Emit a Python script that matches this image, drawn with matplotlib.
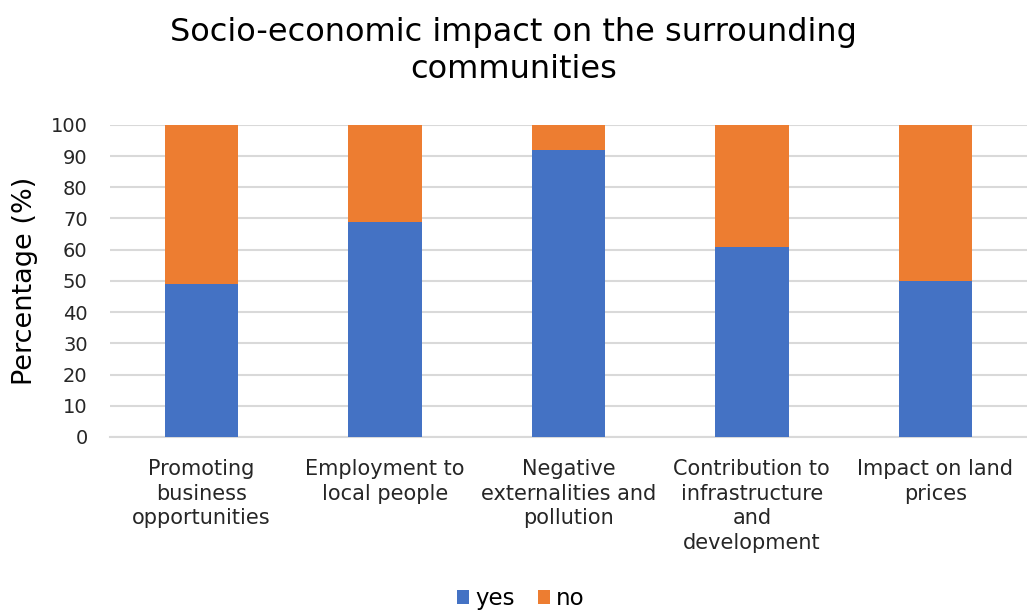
import matplotlib.pyplot as plt
import numpy as np

categories = [
    "Promoting\nbusiness\nopportunities",
    "Employment to\nlocal people",
    "Negative\nexternalities and\npollution",
    "Contribution to\ninfrastructure\nand\ndevelopment",
    "Impact on land\nprices",
]
yes_pct = [49, 69, 92, 61, 50]
no_pct = [51, 31, 8, 39, 50]
y_ticks = list(range(0, 101, 10))

blue = "#4472C4"
orange = "#ED7D31"

plt.rcParams['font.family'] = ['DejaVu Sans']
fig = plt.figure(figsize=(10.27, 6.12), dpi=100)
ax = fig.add_axes([0.107, 0.286, 0.893, 0.51])

x = np.arange(len(categories))
w = 0.4
ax.bar(x, yes_pct, w, color=blue, label="yes", zorder=3)
ax.bar(x, no_pct, w, bottom=yes_pct, color=orange, label="no", zorder=3)

ax.set_xlim(-0.5, len(categories) - 0.5)
ax.set_ylim(0, 100)
ax.set_yticks(y_ticks)
ax.yaxis.grid(True, color="#D9D9D9", linewidth=1.5, zorder=0)
ax.set_axisbelow(True)
for s in ["top", "right", "left"]:
    ax.spines[s].set_visible(False)
ax.spines["bottom"].set_color("#D9D9D9")
ax.spines["bottom"].set_linewidth(1.5)
ax.tick_params(axis="y", length=0, labelsize=14, pad=16)
ax.tick_params(axis="x", length=0, labelsize=15, pad=16)
ax.set_xticks(x)
ax.set_xticklabels(categories, linespacing=1.28)
for lbl in ax.get_xticklabels() + ax.get_yticklabels():
    lbl.set_color("#262626")

ax.set_ylabel("Percentage (%)", fontsize=19.5)
ax.yaxis.set_label_coords(-0.078, 0.5)
fig.suptitle("Socio-economic impact on the surrounding\ncommunities", fontsize=23,
             y=0.972, linespacing=1.25)

fig.legend(loc="lower center", bbox_to_anchor=(0.507, -0.03), ncol=2, frameon=False,
           fontsize=16.5, handlelength=0.55, handleheight=0.55, handletextpad=0.25,
           columnspacing=1.0)

fig.savefig("out.png", dpi=100)
